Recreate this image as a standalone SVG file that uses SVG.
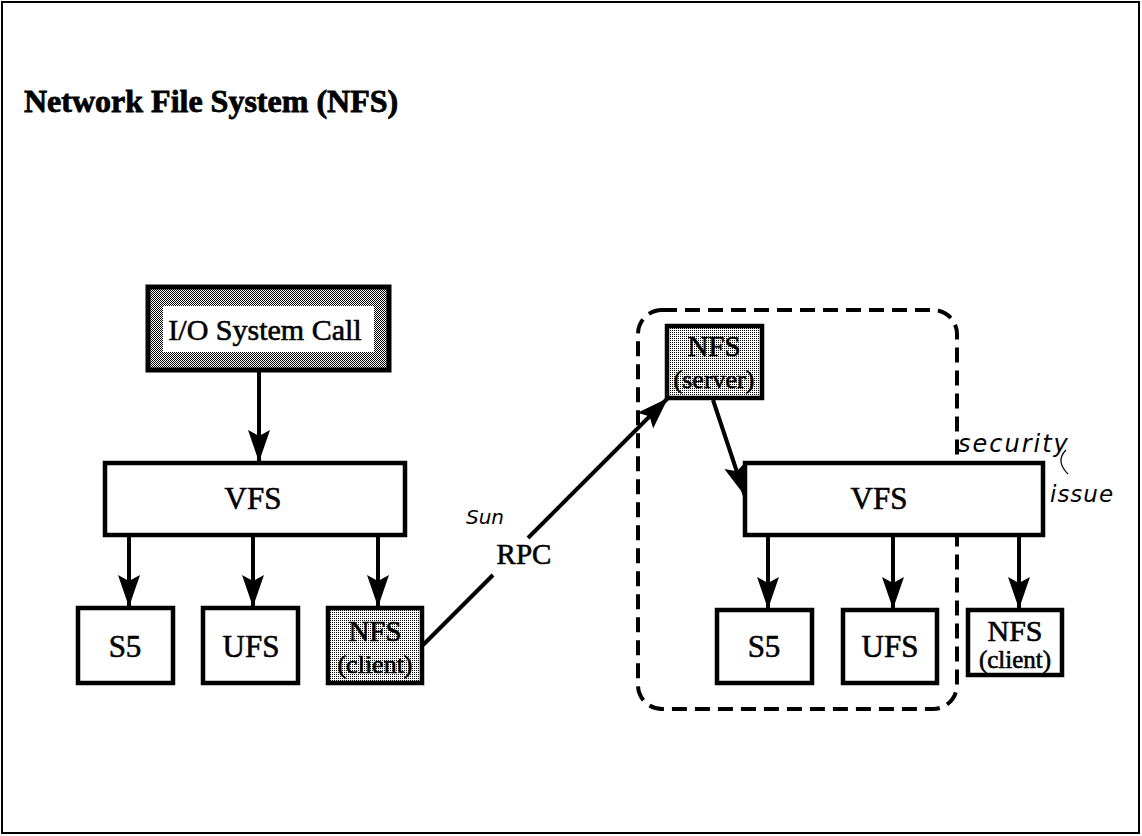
<svg xmlns="http://www.w3.org/2000/svg" width="1142" height="836" viewBox="0 0 1142 836">
<style>
.box{stroke:#000;stroke-width:4.5;fill:#fff}
.lbl{font-family:"Liberation Serif","Times New Roman",serif;fill:#000;stroke:#000;stroke-width:0.6;text-anchor:middle}
.hand{font-family:"DejaVu Sans",sans-serif;font-style:italic;font-weight:300;fill:#000}
.conn{stroke:#000;stroke-width:4;fill:none}
</style>
<defs>
<pattern id="dark" width="2" height="2" patternUnits="userSpaceOnUse">
<rect width="2" height="2" fill="#fff"/>
<rect x="0" y="0" width="1" height="1" fill="#000"/>
<rect x="1" y="1" width="1" height="1" fill="#000"/>
</pattern>
<pattern id="light" width="2" height="2" patternUnits="userSpaceOnUse">
<rect width="2" height="2" fill="#fff"/>
<rect x="0" y="0" width="1" height="1" fill="#000"/>
</pattern>
<marker id="ah" markerUnits="userSpaceOnUse" markerWidth="34" markerHeight="24" refX="32" refY="12" orient="auto">
<path d="M0,1 L32,12 L0,23 L6,12 z" fill="#000"/>
</marker>
</defs>
<rect x="0" y="0" width="1142" height="836" fill="#fff"/>
<rect x="2" y="2" width="1137" height="831" fill="none" stroke="#000" stroke-width="2"/>
<text x="24" y="112" font-family="'Liberation Serif','Times New Roman',serif" font-weight="bold" font-size="32" stroke="#000" stroke-width="0.8">Network File System (NFS)</text>

<g id="container">
<rect x="638" y="310" width="319" height="399" rx="24" fill="none" stroke="#000" stroke-width="4" stroke-dasharray="15 8"/>
</g>

<g id="connectors">
<line class="conn" x1="259" y1="371" x2="259" y2="462" marker-end="url(#ah)"/>
<line class="conn" x1="129" y1="535" x2="129" y2="607" marker-end="url(#ah)"/>
<line class="conn" x1="253" y1="535" x2="253" y2="607" marker-end="url(#ah)"/>
<line class="conn" x1="378" y1="535" x2="378" y2="607" marker-end="url(#ah)"/>
<line class="conn" x1="423" y1="645" x2="493" y2="575"/>
<line class="conn" x1="528" y1="538" x2="668" y2="398" marker-end="url(#ah)"/>
<line class="conn" x1="713" y1="400" x2="745" y2="496" marker-end="url(#ah)"/>
<line class="conn" x1="768" y1="535" x2="768" y2="609" marker-end="url(#ah)"/>
<line class="conn" x1="893" y1="535" x2="893" y2="609" marker-end="url(#ah)"/>
<line class="conn" x1="1019" y1="535" x2="1019" y2="609" marker-end="url(#ah)"/>
<text class="lbl" x="524" y="564" font-size="29">RPC</text>
<text class="hand" x="466" y="524" font-size="20">Sun</text>
</g>

<g id="io-syscall">
<rect x="148" y="287" width="241" height="83" fill="url(#dark)" stroke="#000" stroke-width="5"/>
<rect x="163" y="306" width="211" height="46" fill="#fff"/>
<text class="lbl" x="265" y="340" font-size="30">I/O System Call</text>
</g>

<g id="vfs-left">
<rect class="box" x="105" y="463" width="300" height="72"/>
<text class="lbl" x="253" y="509" font-size="31">VFS</text>
</g>
<g id="s5-left">
<rect class="box" x="78" y="608" width="95" height="75"/>
<text class="lbl" x="125" y="657" font-size="31">S5</text>
</g>
<g id="ufs-left">
<rect class="box" x="203" y="608" width="95" height="75"/>
<text class="lbl" x="251" y="657" font-size="31">UFS</text>
</g>
<g id="nfs-client-left">
<rect class="box" x="328" y="608" width="94" height="75" style="fill:url(#light)"/>
<text class="lbl" x="375" y="641" font-size="29">NFS</text>
<text class="lbl" x="375" y="673" font-size="26">(client)</text>
</g>

<g id="nfs-server">
<rect class="box" x="667" y="326" width="95" height="72" style="fill:url(#light)"/>
<text class="lbl" x="714" y="356" font-size="29">NFS</text>
<text class="lbl" x="714" y="388" font-size="26">(server)</text>
</g>
<g id="vfs-right">
<rect class="box" x="745" y="463" width="298" height="72"/>
<text class="lbl" x="879" y="509" font-size="31">VFS</text>
</g>
<g id="s5-right">
<rect class="box" x="717" y="610" width="95" height="73"/>
<text class="lbl" x="764" y="657" font-size="31">S5</text>
</g>
<g id="ufs-right">
<rect class="box" x="843" y="610" width="94" height="73"/>
<text class="lbl" x="890" y="657" font-size="31">UFS</text>
</g>
<g id="nfs-client-right">
<rect class="box" x="968" y="610" width="94" height="65"/>
<text class="lbl" x="1015" y="641" font-size="30">NFS</text>
<text class="lbl" x="1015" y="668" font-size="25">(client)</text>
</g>

<g id="annotation">
<text class="hand" x="958" y="452" font-size="24" letter-spacing="2">security</text>
<text class="hand" x="1050" y="502" font-size="23" letter-spacing="1">issue</text>
<path d="M1066,450 C1058,458 1060,466 1068,474" fill="none" stroke="#000" stroke-width="1.2"/>
</g>
</svg>
